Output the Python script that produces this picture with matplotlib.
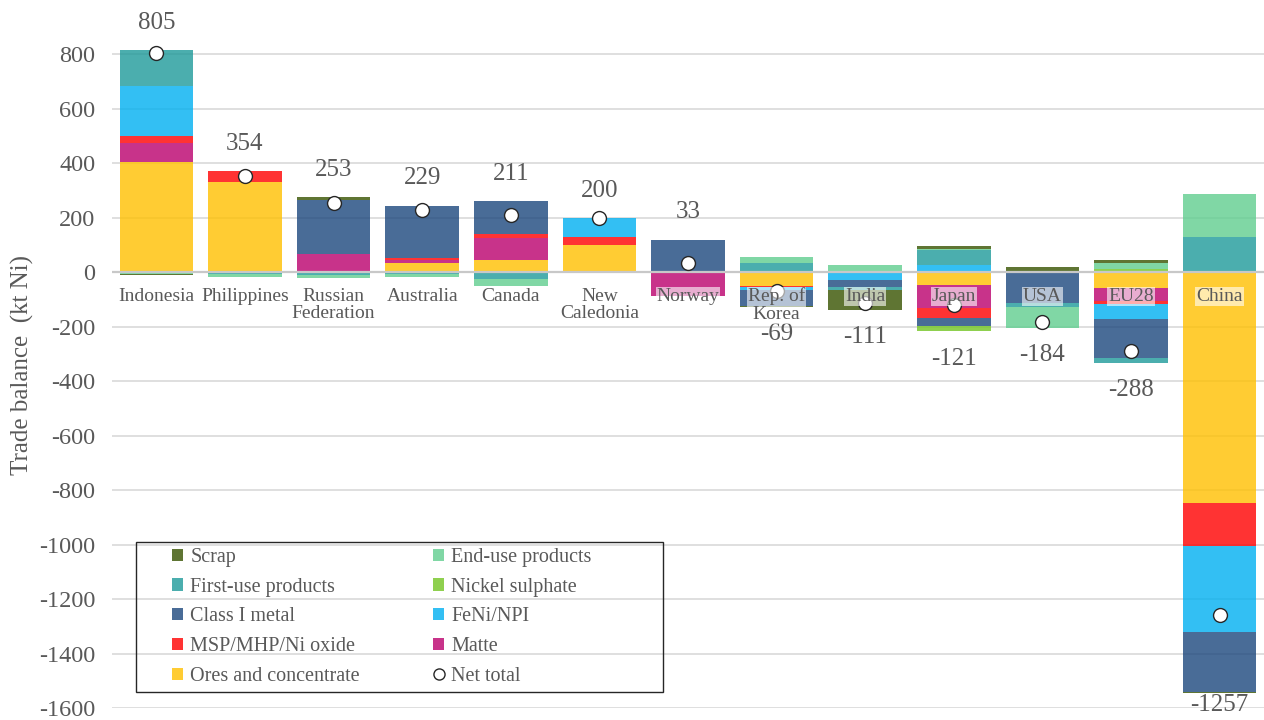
import matplotlib
matplotlib.use("Agg")
import matplotlib.pyplot as plt
from matplotlib.patches import Rectangle
from matplotlib.lines import Line2D
import numpy as np

countries = ["Indonesia", "Philippines", "Russian\nFederation", "Australia", "Canada",
             "New\nCaledonia", "Norway", "Rep. of\nKorea", "India", "Japan", "USA",
             "EU28", "China"]

# trade balance by product group, kt Ni (positive = net export)
ores       = [404, 330,   5,  34,  46, 102,   0, -49,   0, -46,   0, -57, -846]
matte      = [ 70,   0,  62,  12,  80,   0, -87,   0,   0, -85,   0, -49,   -3]
msp        = [ 27,  41,   0,   5,  16,  29,   0,  -4,   0, -35,   0,  -9, -156]
feni       = [183,   0,   0,   0,   0,  69,   0, -12, -29,  26,  -4, -56, -315]
class1     = [ -2,   0, 200, 193, 119,   0, 120, -60, -25, -32, -110, -145, -222]
sulphate   = [  0,   0,   0,   0,   0,   0,   0,   0,   0, -19,   0,  12,    0]
first_use  = [131,  -6, -10,  -6, -24,   0,   0,  36, -10,  55, -13, -18,  130]
end_use    = [ -4, -11, -12, -10, -26,   0,   0,  22,  27,   3, -77,  22,  158]
scrap      = [ -4,   0,   8,   1,   0,   0,   0,  -2, -74,  12,  20,  12,   -3]

net_total = [805, 354, 253, 229, 211, 200, 33, -69, -111, -121, -184, -288, -1257]

series = [
    ("Ores and concentrate", ores, "#FFC000"),
    ("Matte", matte, "#BB006D"),
    ("MSP/MHP/Ni oxide", msp, "#FF0000"),
    ("FeNi/NPI", feni, "#00B0F0"),
    ("Class I metal", class1, "#1C477D"),
    ("Nickel sulphate", sulphate, "#73C523"),
    ("First-use products", first_use, "#1E9A9A"),
    ("End-use products", end_use, "#60CE8F"),
    ("Scrap", scrap, "#375200"),
]

plt.rcParams["font.family"] = ["Liberation Serif", "DejaVu Serif"]
plt.rcParams["axes.unicode_minus"] = False
text_color = "#595959"

fig = plt.figure(figsize=(12.64, 7.2), dpi=100)
ax = fig.add_axes([112 / 1264, 12 / 720, 1152 / 1264, 708 / 720])

x = np.arange(len(countries))
pos_base = np.zeros(len(countries))
neg_base = np.zeros(len(countries))
for name, vals, color in series:
    vals = np.array(vals, dtype=float)
    pos = np.where(vals > 0, vals, 0)
    neg = np.where(vals < 0, vals, 0)
    ax.bar(x, pos, bottom=pos_base, width=0.83, color=color, alpha=0.8, zorder=2, linewidth=0)
    ax.bar(x, neg, bottom=neg_base, width=0.83, color=color, alpha=0.8, zorder=2, linewidth=0)
    pos_base += pos
    neg_base += neg

ax.axhline(0, color="#c8c8c8", lw=1.6, zorder=3)

ax.plot(x, net_total, "o", ms=10, mfc="white", mec="#262626", mew=1.0, ls="none", zorder=5)

ymin, ymax = -1600, 1000
for i, v in enumerate(net_total):
    if v >= 0:
        y = pos_base[i] + 100
    else:
        y = max(neg_base[i] - 100, ymin + 10)
    ax.text(i, y, str(v), ha="center", va="center", fontsize=18, color=text_color, zorder=6)

for i, name in enumerate(countries):
    ax.annotate(name, (i, 0), xytext=(0, -11), textcoords="offset points",
                ha="center", va="top", fontsize=14, color=text_color, zorder=6,
                linespacing=1.05,
                bbox=dict(boxstyle="square,pad=0.05", fc="white", ec="none", alpha=0.6))

ax.set_xlim(-0.5, len(countries) - 0.5)
ax.set_ylim(ymin, ymax)
ax.set_yticks(np.arange(-1600, 801, 200))
ax.set_xticks([])
ax.tick_params(axis="y", length=0, pad=12, labelsize=17.5, labelcolor=text_color)
ax.grid(axis="y", color="#d9d9d9", lw=1.2, zorder=0)
ax.set_axisbelow(True)
for s in ax.spines.values():
    s.set_visible(False)

ax.set_ylabel("Trade balance  (kt Ni)", fontsize=18, color=text_color)
ax.yaxis.set_label_coords(-0.068, 0.484)

# legend laid out in rows: left column then right column
col_left = ["Scrap", "First-use products", "Class I metal", "MSP/MHP/Ni oxide", "Ores and concentrate"]
col_right = ["End-use products", "Nickel sulphate", "FeNi/NPI", "Matte"]
colors = {name: color for name, _, color in series}
handles, labels = [], []
for name in col_left + col_right:
    handles.append(Rectangle((0, 0), 1, 1, fc=colors[name], alpha=0.8, lw=0))
    labels.append(name)
handles.append(Line2D([], [], marker="o", ms=8, mfc="white", mec="#262626", mew=1.0, ls="none"))
labels.append("Net total")

leg = fig.legend(handles, labels, ncol=2, loc="upper left",
                 bbox_to_anchor=(172 / 1264, 1 - 548 / 720),
                 frameon=False, fontsize=14.5, labelcolor=text_color,
                 handlelength=0.55, handleheight=0.55, handletextpad=0.35,
                 labelspacing=0.53, columnspacing=3.65, borderpad=0, borderaxespad=0)
fig.patches.append(Rectangle((136 / 1264, 1 - 692 / 720), 527 / 1264, 150 / 720,
                             transform=fig.transFigure, fill=False, ec="#262626", lw=1.0))

fig.savefig("out.png", dpi=100)
